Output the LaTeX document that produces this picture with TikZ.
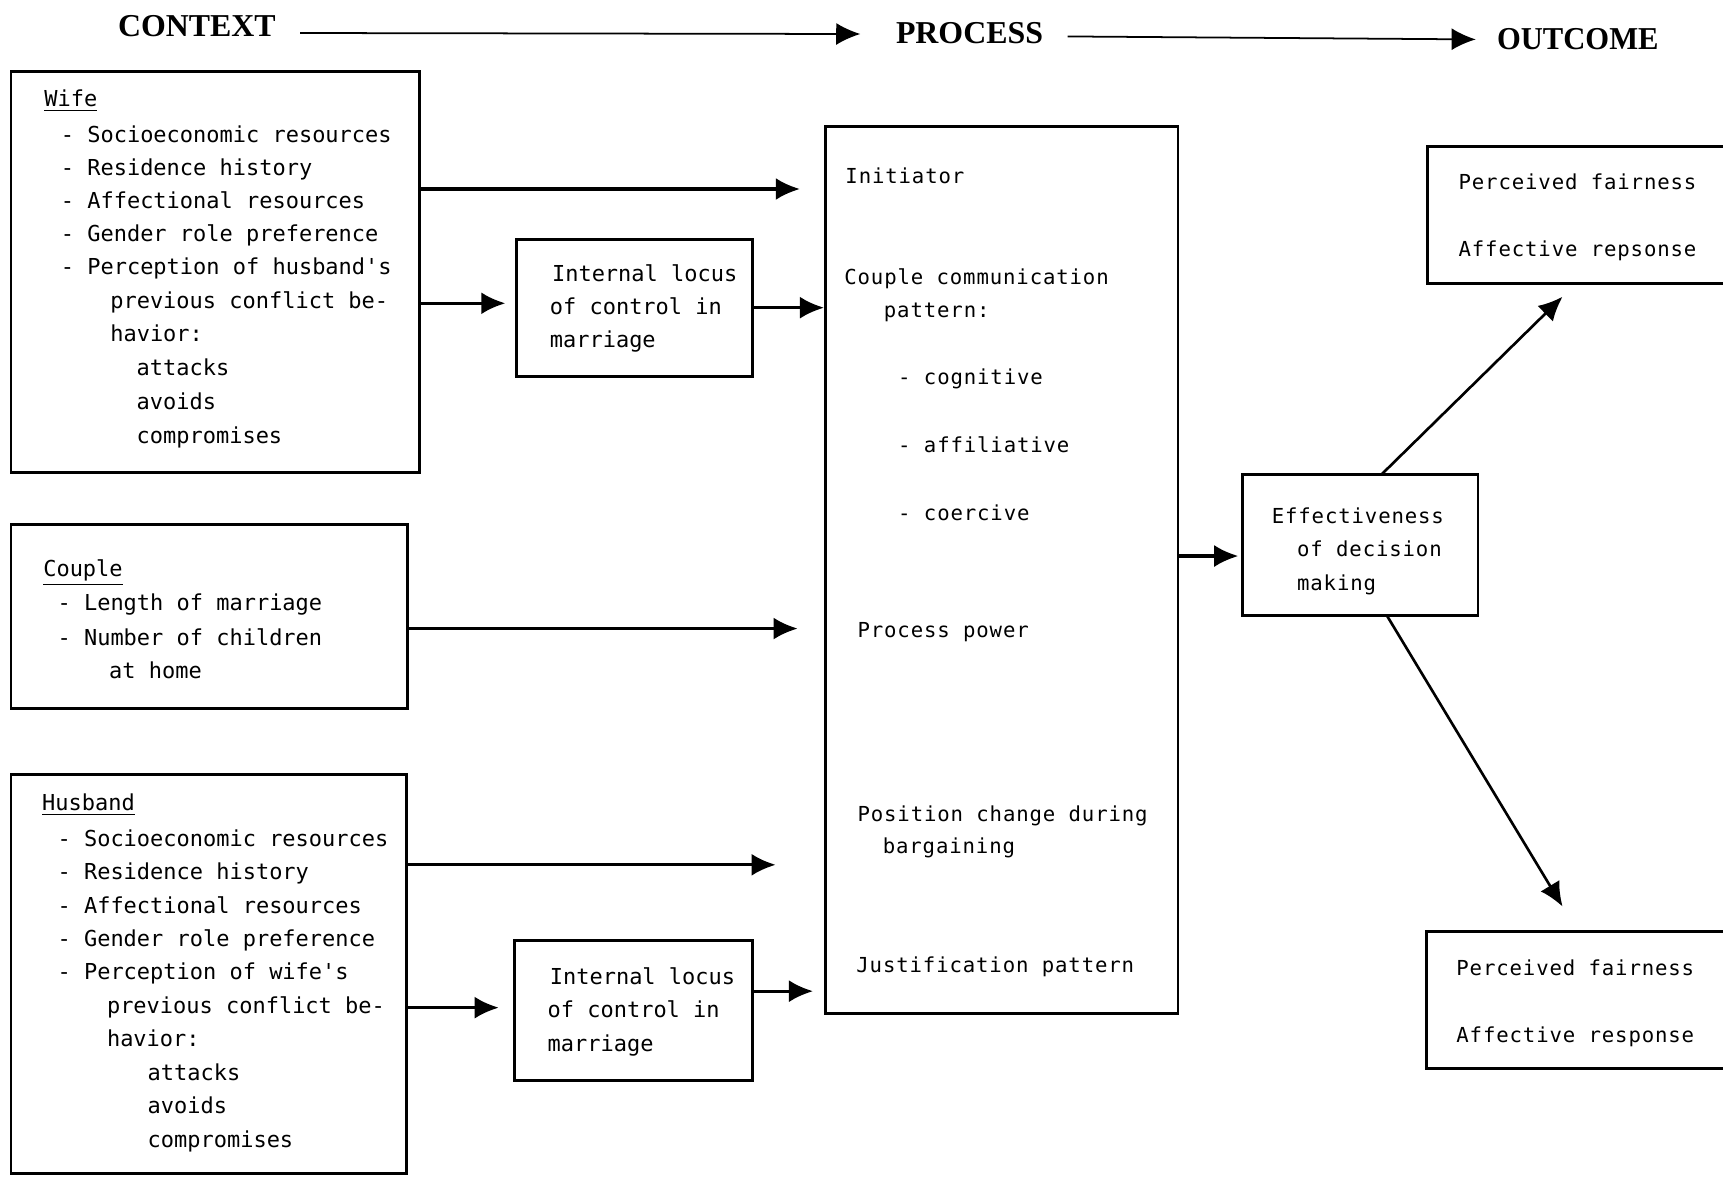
\documentclass[tikz,border=0pt]{standalone}
\usepackage{fontspec}
\usetikzlibrary{arrows.meta}
\newfontfamily\boxfont{DejaVu Sans Mono}
\newfontfamily\procfont[LetterSpace=4.2]{DejaVu Sans Mono}
\newfontfamily\headfont{Liberation Serif}

\begin{document}
\begin{tikzpicture}[x=0.5pt,y=-0.5pt,
  frame/.style={draw, line width=1.3pt, inner sep=0pt, outer sep=0pt, anchor=north west},
  lt/.style={inner sep=0pt, anchor=west, text height=7pt, text depth=0pt,
    font=\boxfont\fontsize{10}{12}\selectfont},
  pt/.style={lt, font=\procfont\fontsize{9.4}{12}\selectfont},
  hd/.style={inner sep=0pt, anchor=west, font=\headfont\bfseries\fontsize{14.5}{16}\selectfont},
  tip/.style={-{Latex[length=11pt,width=10pt]}},
  arr/.style={tip, line width=1.5pt},
  harr/.style={tip, line width=0.8pt},
  darr/.style={tip, line width=1.2pt}]

\useasboundingbox (0,0) rectangle (1568,1071);
\clip (0,0) rectangle (1568,1071);

% stage headings
\node[hd] (ctx) at (107,24) {CONTEXT};
\node[hd] (prc) at (815,30) {PROCESS};
\node[hd, xscale=0.96] (out) at (1362,36) {OUTCOME};
\draw[harr, shorten <=11pt, shorten >=16pt] (ctx.east |- 0,30) -- (prc.west |- 0,31);
\draw[harr, shorten <=11pt, shorten >=9.5pt] (prc.east |- 0,33) -- (out.west |- 0,36);

% frames
\node[frame, minimum width=186pt,   minimum height=182.5pt] (wife)    at (10,65)   {};
\node[frame, minimum width=107.5pt, minimum height=62.5pt]  (ilc1)    at (470,218) {};
\node[frame, minimum width=180.5pt, minimum height=84pt]    (couple)  at (10,477)  {};
\node[frame, minimum width=180pt,   minimum height=181.5pt] (husband) at (10,705)  {};
\node[frame, minimum width=108.5pt, minimum height=63.5pt]  (ilc2)    at (468,856) {};
\node[frame, minimum width=160.5pt, minimum height=403.5pt] (proc)    at (751,115) {};
\node[frame, minimum width=107pt,   minimum height=64pt]    (eff)     at (1131,432) {};
\node[frame, minimum width=150.5pt, minimum height=62.5pt]  (out1)    at (1299,133) {};
\node[frame, minimum width=150.5pt, minimum height=62pt]    (out2)    at (1298,848) {};

% wife
\foreach \x/\y/\t [count=\i] in {
  40/90/{\underline{Wife}},
  55/123/{- Socioeconomic resources},
  55/153/{- Residence history},
  55/183/{- Affectional resources},
  55/213/{- Gender role preference},
  55/243/{- Perception of husband\char"27 s},
  100/274/{previous conflict be-},
  100/304/{havior:},
  124/335/{attacks},
  124/366/{avoids},
  124/397/{compromises}}
  \node[lt] (w\i) at (\x,\y) {\t};

% couple
\foreach \x/\y/\t [count=\i] in {
  39/518/{\underline{Couple}},
  52/549/{- Length of marriage},
  52/580/{- Number of children},
  99/610/{at home}}
  \node[lt] (c\i) at (\x,\y) {\t};

% husband
\foreach \x/\y/\t [count=\i] in {
  38/731/{\underline{Husband}},
  52/763/{- Socioeconomic resources},
  52/793/{- Residence history},
  52/824/{- Affectional resources},
  52/854/{- Gender role preference},
  52/884/{- Perception of wife\char"27 s},
  97/915/{previous conflict be-},
  97/945/{havior:},
  134/976/{attacks},
  134/1006/{avoids},
  134/1037/{compromises}}
  \node[lt] (h\i) at (\x,\y) {\t};

% locus of control
\foreach \x/\y/\t [count=\i] in {
  502/249/{Internal locus}, 500/279/{of control in}, 500/309/{marriage}}
  \node[lt] (l\i) at (\x,\y) {\t};
\foreach \x/\y/\t [count=\i] in {
  500/889/{Internal locus}, 498/919/{of control in}, 498/950/{marriage}}
  \node[lt] (m\i) at (\x,\y) {\t};

% process
\foreach \x/\y/\t [count=\i] in {
  769/160/{Initiator},
  768/252/{Couple communication},
  804/282/{pattern:},
  817/343/{- cognitive},
  817/405/{- affiliative},
  817/467/{- coercive},
  780/573/{Process power},
  780/741/{Position change during},
  803/770/{bargaining},
  779/878/{Justification pattern}}
  \node[pt] (p\i) at (\x,\y) {\t};

% effectiveness and outcomes
\foreach \x/\y/\t [count=\i] in {
  1157/469/{Effectiveness}, 1180/499/{of decision}, 1180/530/{making}}
  \node[pt] (e\i) at (\x,\y) {\t};
\node[pt] (o1) at (1327,165) {Perceived fairness};
\node[pt] (o2) at (1327,226) {Affective repsonse};
\node[pt] (o3) at (1325,881) {Perceived fairness};
\node[pt] (o4) at (1325,942) {Affective response};

% connectors
\draw[arr, shorten >=11.5pt] (wife.east |- 0,172) -- (proc.west |- 0,172);
\draw[arr, shorten >=5pt]    (wife.east |- 0,276) -- (ilc1.west |- 0,276);
\draw[arr, shorten >=0.5pt]  (ilc1.east |- 0,280) -- (proc.west |- 0,280);
\draw[arr, shorten >=12.5pt] (couple.east |- 0,572) -- (proc.west |- 0,572);
\draw[arr, shorten >=22.5pt] (husband.east |- 0,787) -- (proc.west |- 0,787);
\draw[arr, shorten >=7pt]    (husband.east |- 0,917) -- (ilc2.west |- 0,917);
\draw[arr, shorten >=5.5pt]  (ilc2.east |- 0,902) -- (proc.west |- 0,902);
\draw[arr, shorten >=2pt]    (proc.east |- 0,506) -- (eff.west |- 0,506);
\draw[darr] ([xshift=63pt]eff.north west) -- ([xshift=61.5pt,yshift=-6pt]out1.south west);
\draw[darr] ([xshift=65.5pt]eff.south west) -- ([xshift=62pt,yshift=11.5pt]out2.north west);
\end{tikzpicture}
\end{document}
